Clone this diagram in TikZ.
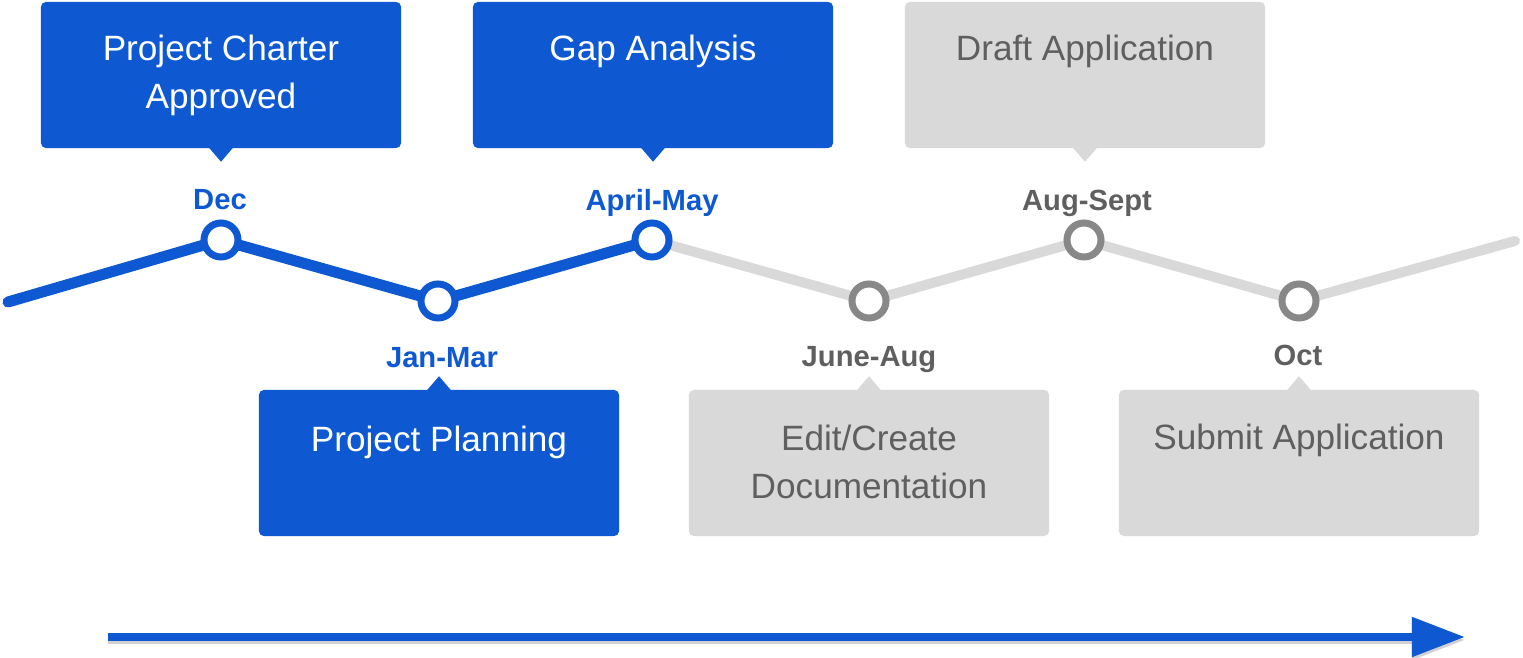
\documentclass[tikz,border=0pt]{standalone}
\usepackage{fontspec}
\setmainfont{Liberation Sans}
\usetikzlibrary{arrows.meta,backgrounds}
\definecolor{tlblue}{RGB}{14,89,210}
\definecolor{tlgray}{RGB}{217,217,217}
\definecolor{tldark}{RGB}{95,95,95}
\definecolor{tlring}{RGB}{136,136,136}
\begin{document}
\begin{tikzpicture}[x=0.01cm,y=-0.01cm,
  box/.style={rectangle, rounded corners=0.05cm, minimum width=3.6cm, minimum height=1.46cm, inner sep=0pt},
  bluebox/.style={box, fill=tlblue},
  graybox/.style={box, fill=tlgray},
  boxtxt/.style={align=center, inner sep=0pt, font=\fontsize{10}{13.66}\selectfont},
  datelbl/.style={inner sep=0pt, font=\fontsize{8.3}{10}\selectfont\bfseries},
  ring/.style={circle, minimum size=0.34cm, line width=0.07cm, fill=white, inner sep=0pt},
  blueline/.style={line width=0.11cm, tlblue, line cap=round, line join=round},
  grayline/.style={line width=0.10cm, tlgray, line cap=round, line join=round},
  arrowline/.style={line width=0.08cm, -{Triangle[length=0.53cm,width=0.38cm]}}
]
\useasboundingbox (0,0) rectangle (1523,658);

% boxes
\node[bluebox] (b1) at (221,75) {};
\node[bluebox] (b2) at (653,75) {};
\node[graybox] (b3) at (1085,75) {};
\node[bluebox] (b4) at (439,463) {};
\node[graybox] (b5) at (869,463) {};
\node[graybox] (b6) at (1299,463) {};

% pointers
\fill[tlblue] ([xshift=-0.12cm,yshift=0.01cm]b1.south) -- ([xshift=0.12cm,yshift=0.01cm]b1.south) -- ([yshift=-0.13cm]b1.south) -- cycle;
\fill[tlblue] ([xshift=-0.12cm,yshift=0.01cm]b2.south) -- ([xshift=0.12cm,yshift=0.01cm]b2.south) -- ([yshift=-0.13cm]b2.south) -- cycle;
\fill[tlgray] ([xshift=-0.12cm,yshift=0.01cm]b3.south) -- ([xshift=0.12cm,yshift=0.01cm]b3.south) -- ([yshift=-0.13cm]b3.south) -- cycle;
\fill[tlblue] ([xshift=-0.12cm,yshift=-0.01cm]b4.north) -- ([xshift=0.12cm,yshift=-0.01cm]b4.north) -- ([yshift=0.13cm]b4.north) -- cycle;
\fill[tlgray] ([xshift=-0.12cm,yshift=-0.01cm]b5.north) -- ([xshift=0.12cm,yshift=-0.01cm]b5.north) -- ([yshift=0.13cm]b5.north) -- cycle;
\fill[tlgray] ([xshift=-0.12cm,yshift=-0.01cm]b6.north) -- ([xshift=0.12cm,yshift=-0.01cm]b6.north) -- ([yshift=0.13cm]b6.north) -- cycle;

% box texts
\node[boxtxt, text=white] (t1) at (221,75) {Project Charter\\Approved};
\node[boxtxt, text=white] (t2) at (653,51) {Gap Analysis};
\node[boxtxt, text=tldark] (t3) at (1085,51) {Draft Application};
\node[boxtxt, text=white] (t4) at (439,442) {Project Planning};
\node[boxtxt, text=tldark] (t5) at (869,462) {Edit/Create\\Documentation};
\node[boxtxt, text=tldark] (t6) at (1299,440) {Submit Application};

% date labels
\node[datelbl, text=tlblue] (l1) at (220,200) {Dec};
\node[datelbl, text=tlblue] (l2) at (442,358) {Jan-Mar};
\node[datelbl, text=tlblue] (l3) at (652,203) {April-May};
\node[datelbl, text=tldark] (l4) at (869,360) {June-Aug};
\node[datelbl, text=tldark] (l5) at (1087,203) {Aug-Sept};
\node[datelbl, text=tldark] (l6) at (1298,355) {Oct};

% timeline
\coordinate (s) at (8,302);
\coordinate (e) at (1515,241);
\node[ring, draw=tlblue] (p1) at (221,240) {};
\node[ring, draw=tlblue] (p2) at (438,301) {};
\node[ring, draw=tlblue] (p3) at (652,240) {};
\node[ring, draw=tlring] (p4) at (869,301) {};
\node[ring, draw=tlring] (p5) at (1084,240) {};
\node[ring, draw=tlring] (p6) at (1299,301) {};
\begin{scope}[on background layer]
\draw[grayline] (p3.center) -- (p4.center) -- (p5.center) -- (p6.center) -- (e);
\draw[blueline] (s) -- (p1.center) -- (p2.center) -- (p3.center);
\end{scope}

% bottom arrow
\coordinate (a0) at (108,637);
\coordinate (a1) at (1465,637);
\draw[arrowline, black!18, transform canvas={yshift=-0.03cm}] (a0) -- (a1);
\draw[arrowline, tlblue] (a0) -- (a1);
\end{tikzpicture}
\end{document}
